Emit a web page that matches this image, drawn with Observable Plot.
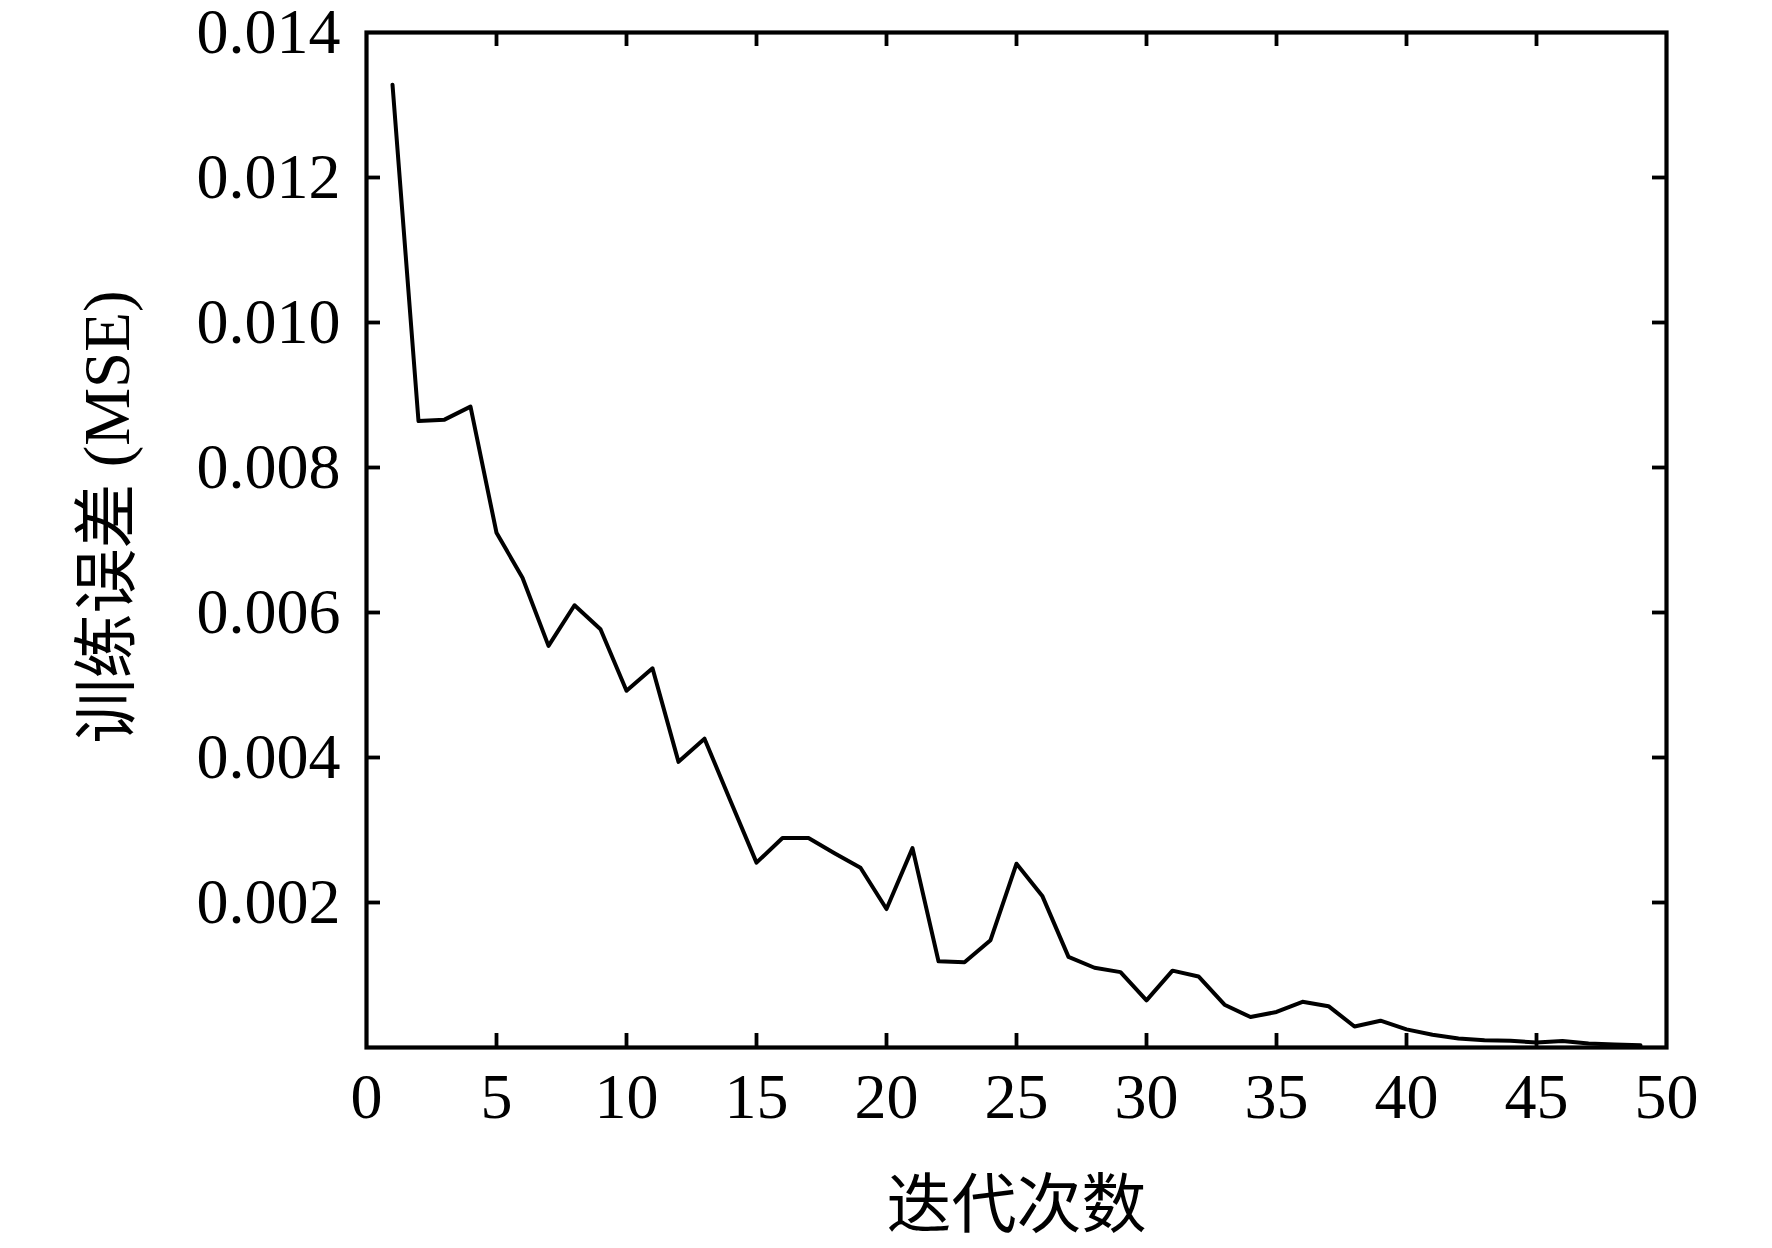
<!DOCTYPE html>
<html>
<head>
<meta charset="utf-8">
<script src="https://cdn.jsdelivr.net/npm/d3@7"></script>
<script src="https://cdn.jsdelivr.net/npm/@observablehq/plot@0.6"></script>
<style>
  html, body { margin: 0; padding: 0; background: #fff; }
  #chart svg { display: block; }
</style>
</head>
<body>
<div id="chart"></div>
<script>
const iterations = [1,2,3,4,5,6,7,8,9,10,11,12,13,14,15,16,17,18,19,20,21,22,23,24,25,26,27,28,29,30,31,32,33,34,35,36,37,38,39,40,41,42,43,44,45,46,47,48,49];
const mse = [
  0.01328, 0.00864, 0.00866, 0.00884, 0.00710, 0.00648, 0.00554, 0.00610, 0.00577, 0.00492,
  0.00523, 0.00394, 0.00426, 0.00340, 0.00255, 0.00289, 0.00289, 0.00268, 0.00248, 0.00191,
  0.00275, 0.00119, 0.001175, 0.00148, 0.002535, 0.002085, 0.00125, 0.00110, 0.00104, 0.00065,
  0.00106, 0.00098, 0.00059, 0.00042, 0.00049, 0.00063, 0.00057, 0.00029, 0.00037, 0.00025,
  0.000175, 0.000124, 0.00010, 0.000092, 0.00007, 0.00009, 0.000055, 0.00004, 0.00003
];
const xTicks = [0, 5, 10, 15, 20, 25, 30, 35, 40, 45, 50];
const yTicks = [0.002, 0.004, 0.006, 0.008, 0.010, 0.012, 0.014];
const xInnerTicks = [5, 10, 15, 20, 25, 30, 35, 40, 45];
const yInnerTicks = [0.002, 0.004, 0.006, 0.008, 0.010, 0.012];
const xLabel = "迭代次数";
const yLabel = "训练误差 (MSE)";

const data = iterations.map((x, i) => ({x, y: mse[i]}));
const tickLen = 14;
const tickW = 3.8;

const chart = Plot.plot({
  width: 1772,
  height: 1248,
  marginLeft: 366,
  marginRight: 106,
  marginTop: 32,
  marginBottom: 201,
  style: {fontFamily: "'Liberation Serif', 'Noto Sans CJK SC', serif", color: "#000", background: "#fff"},
  x: {domain: [0, 50]},
  y: {domain: [0, 0.014]},
  marks: [
    Plot.axisX({ticks: xTicks, tickSize: 0, tickPadding: 25, fontSize: 64, label: null, tickFormat: d3.format("d")}),
    Plot.axisY({ticks: yTicks, tickSize: 0, tickPadding: 26, fontSize: 64, label: null, tickFormat: d3.format(".3f")}),
    // inward ticks: bottom
    Plot.ruleX(xInnerTicks, {x: d => d, y1: 0, y2: 0, insetTop: -tickLen, stroke: "#000", strokeWidth: tickW}),
    // top
    Plot.ruleX(xInnerTicks, {x: d => d, y1: 0.014, y2: 0.014, insetBottom: -tickLen, stroke: "#000", strokeWidth: tickW}),
    // left
    Plot.ruleY(yInnerTicks, {y: d => d, x1: 0, x2: 0, insetRight: -tickLen, stroke: "#000", strokeWidth: tickW}),
    // right
    Plot.ruleY(yInnerTicks, {y: d => d, x1: 50, x2: 50, insetLeft: -tickLen, stroke: "#000", strokeWidth: tickW}),
    Plot.line(data, {x: "x", y: "y", stroke: "#000", strokeWidth: 4}),
    Plot.frame({stroke: "#000", strokeWidth: 4.2}),
    Plot.text([xLabel], {text: d => d, frameAnchor: "bottom", dy: 159, fontSize: 65, textAnchor: "middle", lineAnchor: "middle", fill: "#000"}),
    Plot.text([yLabel], {text: d => d, frameAnchor: "left", dx: -258, dy: -23, rotate: -90, fontSize: 65, textAnchor: "middle", lineAnchor: "middle", fill: "#000"})
  ]
});
document.getElementById("chart").appendChild(chart);
</script>
</body>
</html>
